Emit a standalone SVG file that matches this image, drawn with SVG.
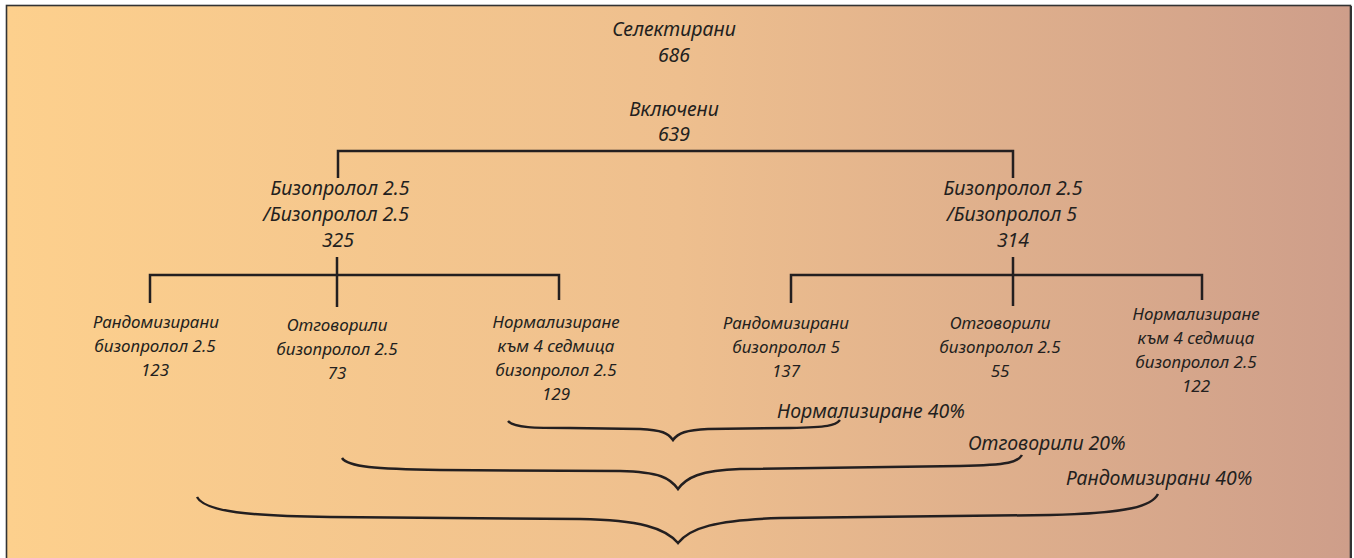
<svg xmlns="http://www.w3.org/2000/svg" width="1354" height="558" viewBox="0 0 1354 558">
<defs>
<linearGradient id="bg" x1="0" y1="0" x2="1" y2="0">
<stop offset="0" stop-color="#FDD08D"/>
<stop offset="0.5" stop-color="#EEBF8E"/>
<stop offset="1" stop-color="#CE9E8A"/>
</linearGradient>
</defs>
<style>
text{font-family:"Noto Sans","Open Sans",sans-serif;font-style:italic;fill:#231F20;text-anchor:middle}
.a{font-size:19.5px}
.b{font-size:17px}
.l{font-size:19.5px;text-anchor:start}
.c{fill:none;stroke:#231F20;stroke-width:2.5}
</style>
<rect x="0" y="0" width="1354" height="558" fill="#FFFFFF"/>
<rect x="6.5" y="5.5" width="1344" height="600" fill="url(#bg)" stroke="#333333" stroke-width="1.6"/>
<line x1="1351" y1="6" x2="1351" y2="558" stroke="#333333" stroke-width="2"/>
<g id="connectors" class="c">
<path class="c" d="M338,178 V151 H1013 V178"/>
<path class="c" d="M337,257 V307 M150,303 V275 H559 V300"/>
<path class="c" d="M1013,257 V306 M791,303 V275 H1202 V300"/>
<path class="c" d="M508,421 C514,428 535,428 570,428 L640,429 C662,430 668,433 673,440 C678,433 686,430 708,429 L790,428 C828,427 835,426 840,420"/>
<path class="c" d="M342,458 C348,467 375,469 440,470 L620,471 C660,472 670,478 678,489 C686,478 700,470 740,469 L960,466 C1010,465 1018,462 1022,455"/>
<path class="c" d="M197,497 C205,512 250,516 330,517 L580,519 C640,520 665,528 678,543 C690,528 715,520 780,518 L1050,515 C1130,513 1152,506 1158,494"/>
</g>
<g id="selected"><text class="a" x="674" y="36">Селектирани</text><text class="a" x="674" y="62">686</text></g>
<g id="included"><text class="a" x="674" y="116">Включени</text><text class="a" x="674" y="141">639</text></g>
<g id="arm-left"><text class="a" x="340" y="195">Бизопролол 2.5</text><text class="a" x="336" y="221">/Бизопролол 2.5</text><text class="a" x="338" y="247">325</text></g>
<g id="arm-right"><text class="a" x="1013" y="195">Бизопролол 2.5</text><text class="a" x="1012" y="221">/Бизопролол 5</text><text class="a" x="1013" y="247">314</text></g>
<g id="l-rand"><text class="b" x="156" y="328">Рандомизирани</text><text class="b" x="155" y="352">бизопролол 2.5</text><text class="b" x="155" y="376">123</text></g>
<g id="l-resp"><text class="b" x="337" y="331">Отговорили</text><text class="b" x="337" y="355">бизопролол 2.5</text><text class="b" x="337" y="379">73</text></g>
<g id="l-norm"><text class="b" x="556" y="328">Нормализиране</text><text class="b" x="556" y="352">към 4 седмица</text><text class="b" x="556" y="376">бизопролол 2.5</text><text class="b" x="556" y="400">129</text></g>
<g id="r-rand"><text class="b" x="786" y="329">Рандомизирани</text><text class="b" x="786" y="353">бизопролол 5</text><text class="b" x="786" y="377">137</text></g>
<g id="r-resp"><text class="b" x="1000" y="329">Отговорили</text><text class="b" x="1000" y="353">бизопролол 2.5</text><text class="b" x="1000" y="377">55</text></g>
<g id="r-norm"><text class="b" x="1196" y="320">Нормализиране</text><text class="b" x="1196" y="344">към 4 седмица</text><text class="b" x="1196" y="368">бизопролол 2.5</text><text class="b" x="1196" y="392">122</text></g>
<g id="sum-norm"><text class="l" x="777" y="418">Нормализиране 40%</text></g>
<g id="sum-resp"><text class="l" x="968" y="450">Отговорили 20%</text></g>
<g id="sum-rand"><text class="l" x="1066" y="485">Рандомизирани 40%</text></g>
</svg>
